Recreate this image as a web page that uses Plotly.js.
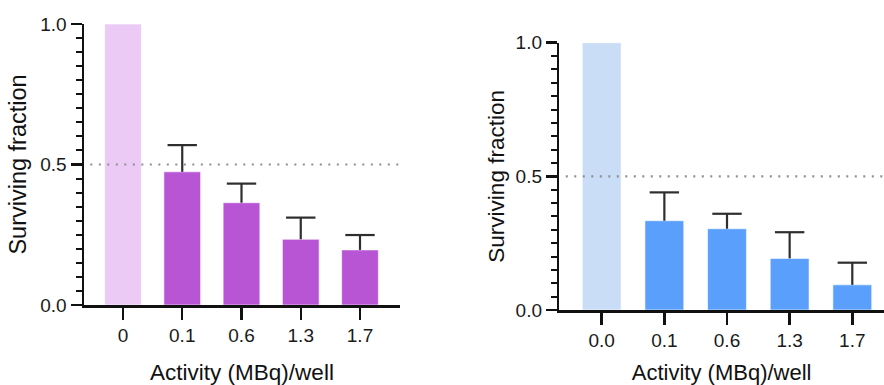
<!DOCTYPE html>
<html>
<head>
<meta charset="utf-8">
<script src="https://cdn.plot.ly/plotly-3.0.1.min.js"></script>
<style>
html,body{margin:0;padding:0;background:#fff;}
#chart{width:884px;height:385px;}
</style>
</head>
<body>
<div id="chart"></div>
<script>
// Left panel (purple)
const leftCategories = ['0', '0.1', '0.6', '1.3', '1.7'];
const leftValues = [1.0, 0.474, 0.364, 0.234, 0.196];
const leftErrors = [0, 0.095, 0.068, 0.077, 0.053];
// Right panel (blue)
const rightCategories = ['0.0', '0.1', '0.6', '1.3', '1.7'];
const rightValues = [1.0, 0.334, 0.304, 0.193, 0.094];
const rightErrors = [0, 0.106, 0.056, 0.098, 0.083];
// Axis labels
const xTitle = 'Activity (MBq)/well';
const yTitle = 'Surviving fraction';
const yTickVals = [0, 0.5, 1.0];
const yTickText = ['0.0', '0.5', '1.0'];
const halfLine = 0.5;

const leftColors = ['#ECCAF6', '#B855D5', '#B855D5', '#B855D5', '#B855D5'];
const rightColors = ['#C9DDF7', '#599FFB', '#599FFB', '#599FFB', '#599FFB'];

const W = 884, H = 385;
const FONT = 'Arial, "Liberation Sans", Helvetica, sans-serif';
const ERRC = '#2e2e2e';

function barTrace(cats, vals, errs, colors, xa, ya){
  return {
    type: 'bar', x: cats, y: vals, xaxis: xa, yaxis: ya,
    width: 0.62,
    marker: {color: colors, line: {color: 'rgba(255,255,255,0.6)', width: 1}},
    // stem of the upper error bar only (no caps)
    error_y: {type: 'data', symmetric: false, array: errs, arrayminus: errs.map(() => 0),
              color: ERRC, thickness: 2.2, width: 0},
    hoverinfo: 'x+y', showlegend: false
  };
}
function capTrace(cats, vals, errs, xa, ya){
  // cap at the top end of each upper error bar
  return {
    type: 'scatter', mode: 'markers', xaxis: xa, yaxis: ya,
    x: cats, y: vals.map((v, i) => errs[i] > 0 ? v + errs[i] : null),
    marker: {symbol: 'line-ew', size: 21, line: {color: ERRC, width: 2.2}},
    hoverinfo: 'skip', showlegend: false, cliponaxis: false
  };
}

const traces = [
  barTrace(leftCategories, leftValues, leftErrors, leftColors, 'x', 'y'),
  capTrace(leftCategories, leftValues, leftErrors, 'x', 'y'),
  barTrace(rightCategories, rightValues, rightErrors, rightColors, 'x2', 'y2'),
  capTrace(rightCategories, rightValues, rightErrors, 'x2', 'y2')
];

function xAxis(domain, range, anchor, titleSize, standoff){
  return {
    domain: domain, range: range, anchor: anchor, type: 'category',
    showline: true, linecolor: '#111', linewidth: 2.5,
    ticks: 'outside', ticklen: 12, tickwidth: 2.5, tickcolor: '#111',
    showgrid: false, zeroline: false,
    tickfont: {family: FONT, size: 19, color: '#1a1a1a'},
    title: {text: xTitle, font: {family: FONT, size: titleSize, color: '#111'}, standoff: standoff},
    fixedrange: true
  };
}
function yAxis(domain, anchor, titleSize, standoff){
  return {
    domain: domain, range: [0, 1.0], anchor: anchor,
    showline: true, linecolor: '#111', linewidth: 2.5,
    ticks: 'outside', ticklen: 11, tickwidth: 2.5, tickcolor: '#111',
    tickvals: yTickVals, ticktext: yTickText,
    minor: {dtick: 0.05, ticks: 'outside', ticklen: 6, tickwidth: 2, tickcolor: '#111', showgrid: false},
    showgrid: false, zeroline: false,
    tickfont: {family: FONT, size: 19, color: '#1a1a1a'},
    title: {text: yTitle, font: {family: FONT, size: titleSize, color: '#111'}, standoff: standoff},
    fixedrange: true
  };
}

const layout = {
  width: W, height: H,
  margin: {l: 0, r: 0, t: 0, b: 0},
  paper_bgcolor: '#fff', plot_bgcolor: 'rgba(0,0,0,0)',
  xaxis: xAxis([84/W, 400/W], [-0.658, 4.675], 'y', 22.5, 22),
  yaxis: yAxis([(H-305)/H, (H-24)/H], 'x', 23.5, 7),
  xaxis2: xAxis([559.3/W, 1], [-0.677, 4.506], 'y2', 22, 22),
  yaxis2: yAxis([(H-310)/H, (H-42.7)/H], 'x2', 22.5, 5),
  shapes: [
    {type: 'line', xref: 'x domain', yref: 'y', x0: 0.02, x1: 1, y0: halfLine, y1: halfLine,
     line: {color: '#8f8f8f', width: 2.2, dash: '2px,6.5px'}, layer: 'above'},
    {type: 'line', xref: 'x2 domain', yref: 'y2', x0: 0.02, x1: 1, y0: halfLine, y1: halfLine,
     line: {color: '#8f8f8f', width: 2.2, dash: '2px,6.5px'}, layer: 'above'}
  ]
};

Plotly.newPlot('chart', traces, layout, {displayModeBar: false, staticPlot: true});
</script>
</body>
</html>
